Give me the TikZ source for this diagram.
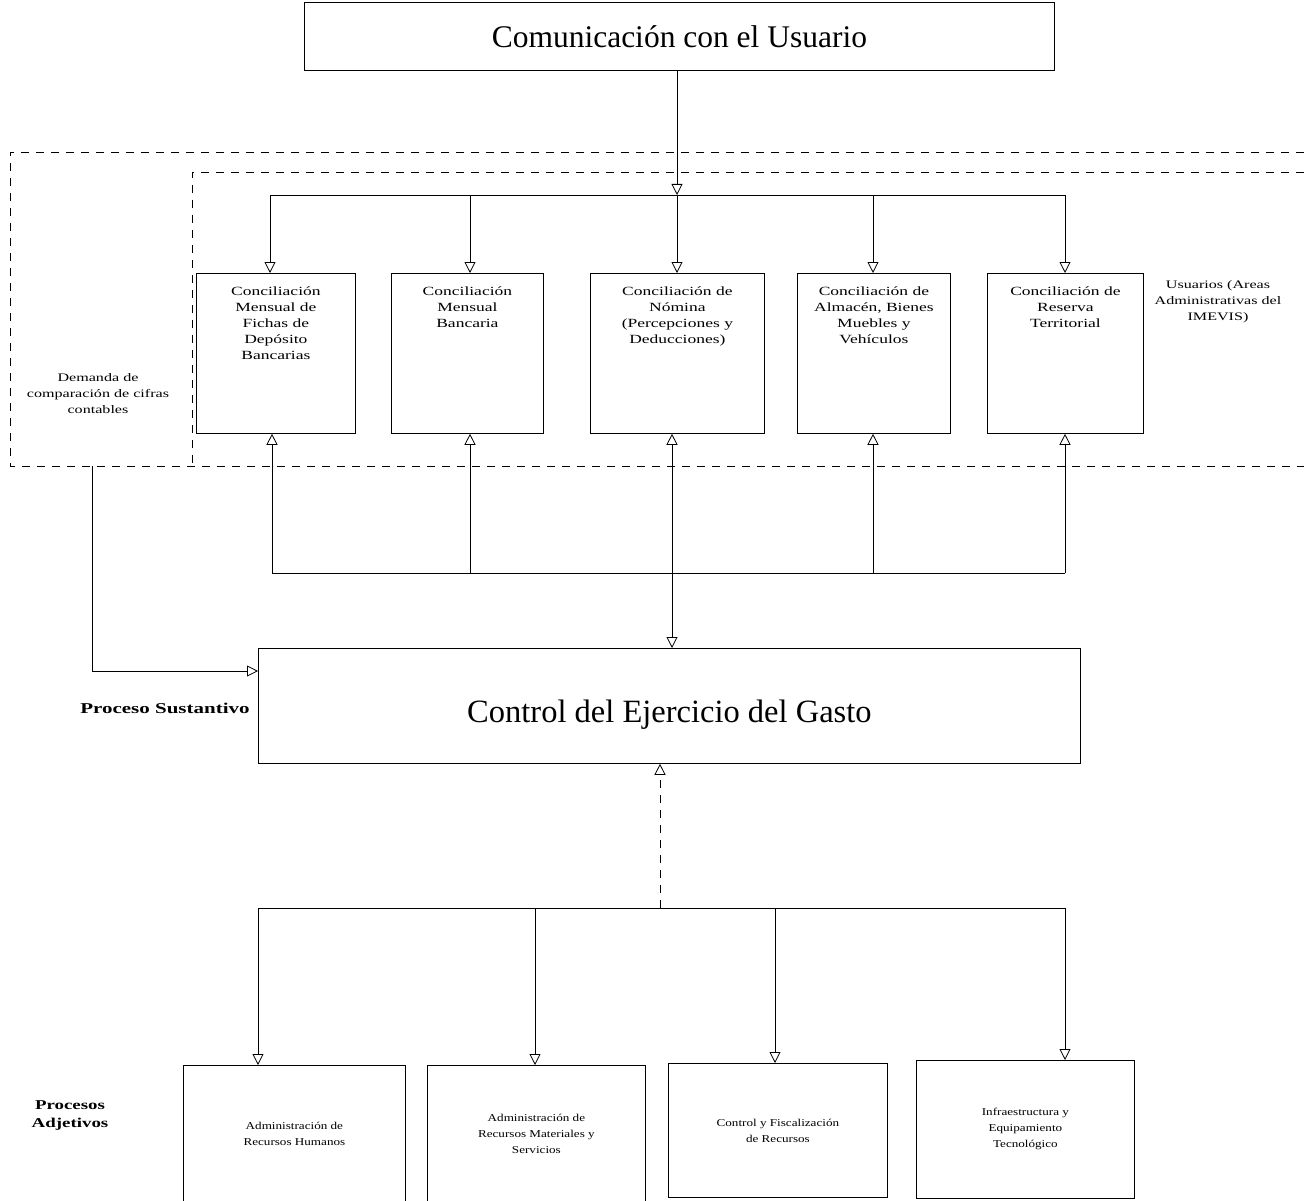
\documentclass[tikz,border=0pt]{standalone}
\usepackage{fontspec}
\setmainfont{Liberation Serif}
\newfontfamily\widefont[FakeStretch=1.4]{Liberation Serif}
\newfontfamily\midfont[FakeStretch=1.25]{Liberation Serif}
\usetikzlibrary{arrows.meta}
\begin{document}
\begin{tikzpicture}[x=1pt,y=-1pt,
  line width=0.8pt,
  box/.style={draw, rectangle, inner sep=0pt, anchor=north west},
  toptext/.style={anchor=north, align=center, inner sep=0pt, font=\widefont\fontsize{12.5}{16}\selectfont},
  bottext/.style={align=center, inner sep=0pt, font=\midfont\fontsize{10.5}{16}\selectfont},
  sidetext/.style={align=center, inner sep=0pt, font=\widefont\fontsize{11.5}{16}\selectfont},
  boldtext/.style={align=center, inner sep=0pt, font=\widefont\bfseries\fontsize{13.5}{18}\selectfont},
  arr/.style={-{Triangle[open,length=11pt,width=11pt]}},
  dblarr/.style={{Triangle[open,length=11pt,width=11pt]}-{Triangle[open,length=11pt,width=11pt]}},
  dsh/.style={dash pattern=on 8pt off 7pt}
]
\useasboundingbox (0,0) rectangle (1304,1201);

% dashed regions
\draw[dsh] (1304,152) -- (10,152) -- (10,466) -- (1304,466);
\draw[dsh] (1304,172) -- (192,172) -- (192,466);

% title
\node[box, minimum width=750, minimum height=68, font=\fontsize{31.5}{36}\selectfont] (title) at (304,2) {Comunicación con el Usuario};

% top row boxes
\node[box, minimum width=159, minimum height=160] (c1) at (196,273) {};
\node[box, minimum width=152, minimum height=160] (c2) at (391,273) {};
\node[box, minimum width=174, minimum height=160] (c3) at (590,273) {};
\node[box, minimum width=153, minimum height=160] (c4) at (797,273) {};
\node[box, minimum width=156, minimum height=160] (c5) at (987,273) {};
\node[toptext] (c1t) at ([yshift=-13]c1.north) {Conciliación\\Mensual de\\Fichas de\\Depósito\\Bancarias};
\node[toptext] (c2t) at ([yshift=-13]c2.north) {Conciliación\\Mensual\\Bancaria};
\node[toptext] (c3t) at ([yshift=-13]c3.north) {Conciliación de\\Nómina\\(Percepciones y\\Deducciones)};
\node[toptext] (c4t) at ([yshift=-13]c4.north) {Conciliación de\\Almacén, Bienes\\Muebles y\\Vehículos};
\node[toptext] (c5t) at ([yshift=-13]c5.north) {Conciliación de\\Reserva\\Territorial};

\node[sidetext] (users) at (1218,302) {Usuarios (Areas\\Administrativas del\\IMEVIS)};
\node[sidetext] (demand) at (98,394) {Demanda de\\comparación de cifras\\contables};

% control box
\node[box, minimum width=822, minimum height=115] (ctrl) at (258,648) {};
\node[inner sep=0pt, font=\fontsize{32.5}{38}\selectfont] (ctrlt) at ([yshift=-9]ctrl.center) {Control del Ejercicio del Gasto};
\node[boldtext, font=\widefont\bfseries\fontsize{15}{18}\selectfont] (sust) at (165,708) {Proceso Sustantivo};

% bottom boxes
\node[box, minimum width=222, minimum height=136, bottext] (a1) at (183,1065) {Administración de\\Recursos Humanos};
\node[box, minimum width=218, minimum height=136, bottext] (a2) at (427,1065) {Administración de\\Recursos Materiales y\\Servicios};
\node[box, minimum width=219, minimum height=134, bottext] (a3) at (668,1063) {Control y Fiscalización\\de Recursos};
\node[box, minimum width=218, minimum height=138, bottext] (a4) at (916,1060) {Infraestructura y\\Equipamiento\\Tecnológico};
\node[boldtext] (adj) at (70,1116) {Procesos\\Adjetivos};

% coordinates
\coordinate (t0) at (677,195);
\coordinate (t1) at (270,195);
\coordinate (t2) at (470,195);
\coordinate (t4) at (873,195);
\coordinate (t5) at (1065,195);
\coordinate (u1) at (272,573);
\coordinate (u2) at (470,573);
\coordinate (u4) at (873,573);
\coordinate (u5) at (1065,573);
\coordinate (m) at (672,573);
\coordinate (l1) at (92,466);
\coordinate (l2) at (92,671);
\coordinate (b0) at (660,908);
\coordinate (b1) at (258,908);
\coordinate (b2) at (535,908);
\coordinate (b3) at (775,908);
\coordinate (b4) at (1065,908);

% top connectors
\draw[arr] (t0 |- title.south) -- (t0);
\draw (t1) -- (t5);
\draw[arr] (t1) -- (t1 |- c1.north);
\draw[arr] (t2) -- (t2 |- c2.north);
\draw[arr] (t0) -- (t0 |- c3.north);
\draw[arr] (t4) -- (t4 |- c4.north);
\draw[arr] (t5) -- (t5 |- c5.north);

% return connectors
\draw (u1) -- (u5);
\draw[arr] (u1) -- (u1 |- c1.south);
\draw[arr] (u2) -- (u2 |- c2.south);
\draw[arr] (u4) -- (u4 |- c4.south);
\draw[arr] (u5) -- (u5 |- c5.south);
\draw[dblarr] (m |- c3.south) -- (m |- ctrl.north);

% demand connector
\draw[arr] (l1) -- (l2) -- (l2 -| ctrl.west);

% bottom connectors
\draw[arr, dsh] (b0) -- (b0 |- ctrl.south);
\draw (b1) -- (b4);
\draw[arr] (b1) -- (b1 |- a1.north);
\draw[arr] (b2) -- (b2 |- a2.north);
\draw[arr] (b3) -- (b3 |- a3.north);
\draw[arr] (b4) -- (b4 |- a4.north);
\end{tikzpicture}
\end{document}
